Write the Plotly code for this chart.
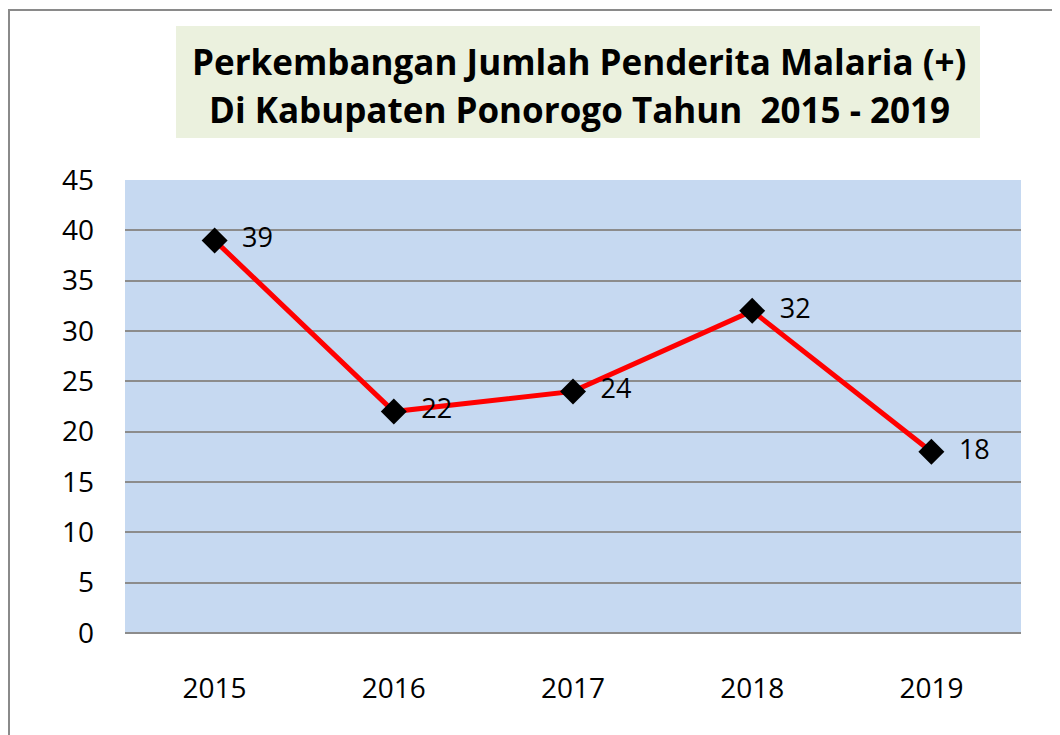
import plotly.graph_objects as go

years = ["2015", "2016", "2017", "2018", "2019"]
cases = [39, 22, 24, 32, 18]
y_ticks = [0, 5, 10, 15, 20, 25, 30, 35, 40, 45]
title_lines = ["Perkembangan Jumlah Penderita Malaria (+)", "Di Kabupaten Ponorogo Tahun  2015 - 2019"]

# page has an 8px body margin; work in reference-pixel coordinates
OFF = 8
W, H = 1060, 735
L, R, T, B = 125 - OFF, 1060 - (1021 - OFF), 180 - OFF, 735 - (633 - OFF)
pw, ph = W - L - R, H - T - B

def px(x):
    return (x - OFF - L) / pw

def py(y):
    return (H - B - (y - OFF)) / ph

fig = go.Figure()
fig.add_trace(go.Scatter(
    x=years, y=cases,
    mode="lines+markers+text",
    line=dict(color="#FF0000", width=5),
    marker=dict(symbol="diamond", size=20, color="#000000"),
    text=["  " + str(v) for v in cases],
    textposition="middle right",
    textfont=dict(family="Open Sans", size=27, color="#000000"),
    cliponaxis=False,
    showlegend=False,
))

fig.update_layout(
    width=W, height=H,
    margin=dict(l=L, r=R, t=T, b=B),
    paper_bgcolor="#FFFFFF",
    plot_bgcolor="#C6D9F1",
    font=dict(family="Open Sans", size=27, color="#000000"),
    xaxis=dict(
        type="category", range=[-0.5, 4.5],
        showgrid=False, zeroline=False,
        showline=False,
        ticks="", ticklabelstandoff=36,
        tickfont=dict(family="Open Sans", size=28),
    ),
    yaxis=dict(
        range=[0, 45], tickvals=y_ticks,
        showgrid=True, gridcolor="#8C8C8C", gridwidth=1.5,
        zeroline=True, zerolinecolor="#8C8C8C", zerolinewidth=1.5,
        ticks="", ticklabelstandoff=30,
        tickfont=dict(family="Open Sans", size=28),
    ),
    shapes=[
        dict(type="rect", xref="paper", yref="paper",
             x0=px(9), x1=px(1100), y0=py(10), y1=py(780),
             line=dict(color="#8A8A8A", width=2), fillcolor="rgba(0,0,0,0)", layer="below"),
        dict(type="rect", xref="paper", yref="paper",
             x0=px(176), x1=px(980), y0=py(138), y1=py(26),
             line=dict(width=0), fillcolor="#EBF1DE", layer="below"),
    ],
    annotations=[
        dict(xref="paper", yref="paper", x=px(579), y=py(61),
             text=title_lines[0], showarrow=False,
             xanchor="center", yanchor="middle",
             font=dict(family="Open Sans", size=35, color="#000000", weight="bold")),
        dict(xref="paper", yref="paper", x=px(579), y=py(109),
             text=title_lines[1], showarrow=False,
             xanchor="center", yanchor="middle",
             font=dict(family="Open Sans", size=35, color="#000000", weight="bold")),
    ],
)

fig.write_html("out.html")
